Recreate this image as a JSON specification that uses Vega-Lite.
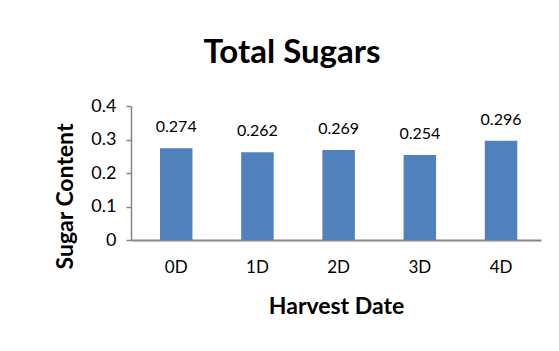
{
  "$schema": "https://vega.github.io/schema/vega-lite/v6.json",
  "width": 410,
  "height": 134,
  "autosize": {"type": "none"},
  "padding": {"left": 131, "top": 106, "right": 18, "bottom": 111},
  "background": "white",
  "title": {
    "text": "Total Sugars",
    "font": "Lato",
    "fontSize": 33,
    "fontWeight": "bold",
    "color": "#000000",
    "anchor": "middle",
    "frame": "group",
    "dx": -44,
    "dy": 35,
    "baseline": "alphabetic",
    "offset": 36
  },
  "data": {
    "values": [
      {"date": "0D", "sugar": 0.274},
      {"date": "1D", "sugar": 0.262},
      {"date": "2D", "sugar": 0.269},
      {"date": "3D", "sugar": 0.254},
      {"date": "4D", "sugar": 0.296}
    ]
  },
  "encoding": {
    "x": {
      "field": "date",
      "type": "nominal",
      "sort": null,
      "scale": {"paddingInner": 0.6, "paddingOuter": 0.3246, "align": 0.55},
      "axis": {
        "title": "Harvest Date",
        "titleFont": "Lato",
        "titleFontSize": 23,
        "titleFontWeight": "bold",
        "titleColor": "#000000",
        "titlePadding": 20,
        "labelFont": "Lato",
        "labelFontSize": 17,
        "labelColor": "#000000",
        "labelAngle": 0,
        "labelPadding": 19,
        "ticks": false,
        "domainColor": "#868686",
        "domainWidth": 2,
        "grid": false
      }
    },
    "y": {
      "field": "sugar",
      "type": "quantitative",
      "scale": {"domain": [0, 0.4], "nice": false},
      "axis": {
        "title": "Sugar Content",
        "titleFont": "Lato",
        "titleFontSize": 23,
        "titleFontWeight": "bold",
        "titleColor": "#000000",
        "titleAngle": 270,
        "titleAlign": "center",
        "titleBaseline": "middle",
        "titleX": -66,
        "titleY": 90,
        "values": [0, 0.1, 0.2, 0.3, 0.4],
        "labelExpr": "datum.value == 0 ? '0' : format(datum.value, '.1f')",
        "labelFont": "Lato",
        "labelFontSize": 18,
        "labelColor": "#000000",
        "labelPadding": 10,
        "tickSize": 5,
        "tickColor": "#868686",
        "tickWidth": 1.5,
        "domainColor": "#868686",
        "domainWidth": 1.5,
        "grid": false
      }
    }
  },
  "layer": [
    {"mark": {"type": "bar", "color": "#4F81BD"}},
    {
      "mark": {"type": "text", "font": "Lato", "fontSize": 16, "color": "#000000", "baseline": "middle", "dy": -21},
      "encoding": {"text": {"field": "sugar", "type": "quantitative", "format": ".3f"}}
    }
  ],
  "config": {"view": {"stroke": null}}
}
